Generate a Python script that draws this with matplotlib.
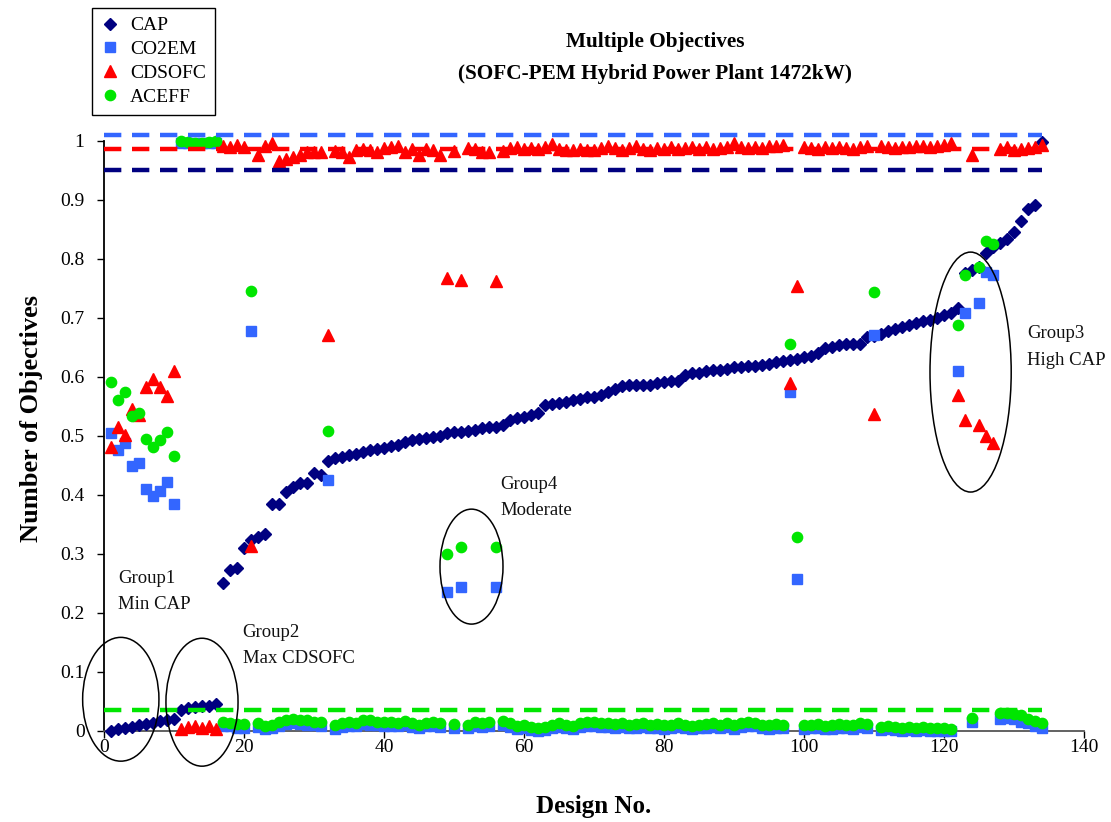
import matplotlib
matplotlib.use("Agg")
import matplotlib.pyplot as plt
from matplotlib.patches import Ellipse

# ---------------- data ----------------
design = list(range(1, 135))

cap = [
    0.000, 0.002, 0.004, 0.006, 0.009, 0.011, 0.013, 0.016, 0.017, 0.019,
    0.035, 0.038, 0.040, 0.041, 0.042, 0.045, 0.250, 0.272, 0.275, 0.309,
    0.323, 0.329, 0.333, 0.385, 0.385, 0.405, 0.413, 0.419, 0.420, 0.437,
    0.434, 0.458, 0.462, 0.464, 0.467, 0.469, 0.472, 0.475, 0.478, 0.480,
    0.483, 0.485, 0.490, 0.492, 0.494, 0.496, 0.498, 0.500, 0.504, 0.506,
    0.507, 0.508, 0.510, 0.513, 0.514, 0.515, 0.518, 0.527, 0.530, 0.532,
    0.535, 0.538, 0.552, 0.554, 0.555, 0.558, 0.561, 0.562, 0.565, 0.566,
    0.569, 0.575, 0.579, 0.584, 0.586, 0.586, 0.586, 0.586, 0.589, 0.592,
    0.593, 0.593, 0.603, 0.606, 0.607, 0.609, 0.611, 0.612, 0.614, 0.616,
    0.617, 0.618, 0.619, 0.620, 0.622, 0.625, 0.627, 0.629, 0.631, 0.633,
    0.636, 0.640, 0.648, 0.651, 0.654, 0.655, 0.655, 0.655, 0.667, 0.669,
    0.673, 0.677, 0.681, 0.685, 0.688, 0.691, 0.694, 0.697, 0.700, 0.704,
    0.709, 0.717, 0.776, 0.781, 0.786, 0.810, 0.820, 0.827, 0.833, 0.845,
    0.865, 0.884, 0.892, 0.998]

co2em = [
    0.505, 0.476, 0.488, 0.449, 0.454, 0.409, 0.398, 0.407, 0.422, 0.384,
    0.997, 0.997, 0.996, 0.996, 0.997, 0.997, 0.008, 0.007, 0.005, 0.005,
    0.678, 0.006, 0.002, 0.004, 0.008, 0.011, 0.012, 0.011, 0.010, 0.009,
    0.008, 0.425, 0.003, 0.006, 0.008, 0.007, 0.011, 0.010, 0.009, 0.008,
    0.007, 0.007, 0.009, 0.006, 0.004, 0.007, 0.008, 0.006, 0.235, 0.005,
    0.243, 0.004, 0.007, 0.006, 0.008, 0.243, 0.009, 0.006, 0.003, 0.004,
    0.001, 0.000, 0.001, 0.004, 0.006, 0.004, 0.003, 0.006, 0.008, 0.007,
    0.006, 0.006, 0.005, 0.006, 0.004, 0.005, 0.006, 0.004, 0.005, 0.003,
    0.004, 0.006, 0.004, 0.002, 0.004, 0.005, 0.006, 0.004, 0.006, 0.003,
    0.006, 0.008, 0.007, 0.004, 0.003, 0.005, 0.004, 0.575, 0.257, 0.003,
    0.004, 0.005, 0.002, 0.003, 0.005, 0.004, 0.003, 0.006, 0.005, 0.671,
    0.001, 0.002, 0.001, 0.000, 0.001, 0.000, 0.001, 0.000, 0.000, 0.000,
    0.000, 0.609, 0.709, 0.014, 0.725, 0.778, 0.773, 0.020, 0.022, 0.020,
    0.015, 0.012, 0.008, 0.004]

cdsofc = [
    0.481, 0.515, 0.501, 0.545, 0.535, 0.582, 0.596, 0.582, 0.567, 0.609,
    0.002, 0.006, 0.008, 0.004, 0.007, 0.002, 0.991, 0.990, 0.993, 0.990,
    0.313, 0.977, 0.992, 0.996, 0.966, 0.969, 0.972, 0.977, 0.982, 0.981,
    0.982, 0.671, 0.983, 0.981, 0.972, 0.985, 0.987, 0.985, 0.982, 0.988,
    0.989, 0.992, 0.982, 0.987, 0.977, 0.987, 0.985, 0.977, 0.768, 0.983,
    0.765, 0.988, 0.987, 0.981, 0.982, 0.762, 0.983, 0.988, 0.989, 0.987,
    0.988, 0.987, 0.989, 0.995, 0.987, 0.985, 0.985, 0.987, 0.985, 0.985,
    0.988, 0.991, 0.988, 0.985, 0.988, 0.991, 0.987, 0.985, 0.988, 0.987,
    0.989, 0.987, 0.988, 0.989, 0.987, 0.989, 0.987, 0.988, 0.989, 0.996,
    0.989, 0.988, 0.989, 0.988, 0.991, 0.992, 0.993, 0.589, 0.754, 0.989,
    0.988, 0.987, 0.989, 0.988, 0.990, 0.988, 0.987, 0.989, 0.991, 0.537,
    0.991, 0.989, 0.988, 0.990, 0.989, 0.991, 0.992, 0.990, 0.991, 0.993,
    0.996, 0.569, 0.527, 0.977, 0.518, 0.500, 0.487, 0.987, 0.989, 0.985,
    0.987, 0.988, 0.989, 0.993]

aceff = [
    0.591, 0.561, 0.575, 0.534, 0.538, 0.494, 0.481, 0.492, 0.507, 0.466,
    1.000, 0.999, 0.997, 0.997, 0.999, 1.000, 0.015, 0.013, 0.011, 0.011,
    0.746, 0.012, 0.007, 0.010, 0.015, 0.018, 0.019, 0.018, 0.017, 0.015,
    0.015, 0.508, 0.009, 0.012, 0.015, 0.013, 0.018, 0.017, 0.015, 0.014,
    0.014, 0.013, 0.016, 0.012, 0.010, 0.013, 0.015, 0.012, 0.299, 0.011,
    0.312, 0.010, 0.014, 0.012, 0.015, 0.312, 0.016, 0.012, 0.008, 0.010,
    0.006, 0.004, 0.006, 0.010, 0.013, 0.010, 0.008, 0.012, 0.015, 0.014,
    0.012, 0.013, 0.011, 0.012, 0.010, 0.011, 0.012, 0.010, 0.011, 0.009,
    0.010, 0.012, 0.010, 0.008, 0.010, 0.011, 0.013, 0.010, 0.012, 0.009,
    0.012, 0.015, 0.013, 0.010, 0.009, 0.011, 0.010, 0.656, 0.328, 0.009,
    0.010, 0.011, 0.008, 0.009, 0.011, 0.010, 0.009, 0.012, 0.011, 0.743,
    0.006, 0.007, 0.006, 0.005, 0.006, 0.005, 0.006, 0.005, 0.004, 0.005,
    0.003, 0.688, 0.773, 0.022, 0.787, 0.831, 0.826, 0.030, 0.030, 0.028,
    0.026, 0.020, 0.016, 0.012]

series_names = ["CAP", "CO2EM", "CDSOFC", "ACEFF"]
ref_levels = [0.951, 1.010, 0.986, 0.035]   # dashed reference lines (CAP, CO2EM, CDSOFC, ACEFF)
ref_span = [0, 134]

x_ticks = [0, 20, 40, 60, 80, 100, 120, 140]
y_ticks = [0, 0.1, 0.2, 0.3, 0.4, 0.5, 0.6, 0.7, 0.8, 0.9, 1.0]
y_tick_labels = ["0", "0.1", "0.2", "0.3", "0.4", "0.5", "0.6", "0.7", "0.8", "0.9", "1"]

group_labels = ["Group1\nMin CAP", "Group2\nMax CDSOFC", "Group4\nModerate", "Group3\nHigh CAP"]
group_label_pos = [(2.0, 0.272), (19.8, 0.180), (56.6, 0.432), (131.9, 0.687)]
group_ellipses = [(2.4, 0.053, 10.9, 0.21), (14.0, 0.048, 10.3, 0.217),
                  (52.5, 0.278, 9.0, 0.195), (123.8, 0.608, 11.6, 0.407)]

assert len(cap) == len(co2em) == len(cdsofc) == len(aceff) == len(design) == 134

# ---------------- style ----------------
SERIF = ["Liberation Serif", "DejaVu Serif"]
plt.rcParams["font.family"] = SERIF
NAVY = "#000080"
BLUE = "#3366FF"
RED = "#FF0000"
GREEN = "#00E600"

fig = plt.figure(figsize=(11.11, 8.22), dpi=100)
ax = fig.add_axes([0.0936, 0.1113, 0.8821, 0.7172])

h_cap, = ax.plot(design, cap, linestyle="none", marker="D", ms=6.2, color=NAVY,
                 mec=NAVY, clip_on=False, zorder=3, label="CAP")
h_co2, = ax.plot(design, co2em, linestyle="none", marker="s", ms=6.8, color=BLUE,
                 mec=BLUE, clip_on=False, zorder=3, label="CO2EM")
h_cds, = ax.plot(design, cdsofc, linestyle="none", marker="^", ms=8.0, color=RED,
                 mec=RED, clip_on=False, zorder=3, label="CDSOFC")
h_ace, = ax.plot(design, aceff, linestyle="none", marker="o", ms=7.4, color=GREEN,
                 mec=GREEN, clip_on=False, zorder=3, label="ACEFF")

for lvl, col in zip(ref_levels, [NAVY, BLUE, RED, GREEN]):
    ax.plot(ref_span, [lvl, lvl], color=col, lw=3.2, linestyle=(0, (3.9, 2.4)),
            clip_on=False, zorder=4, solid_capstyle="butt", dash_capstyle="butt")

for (cx, cy, w, h) in group_ellipses:
    e = Ellipse((cx, cy), w, h, fill=False, edgecolor="black", lw=1.1,
                clip_on=False, zorder=5)
    ax.add_patch(e)

for txt, (tx, ty) in zip(group_labels, group_label_pos):
    ax.text(tx, ty, txt, fontsize=13.5, va="top", ha="left", linespacing=1.7,
            color="#111111")

ax.set_xlim(0, 140)
ax.set_ylim(0, 1)
ax.set_xticks(x_ticks)
ax.set_yticks(y_ticks)
ax.set_yticklabels(y_tick_labels)
ax.tick_params(axis="both", direction="out", length=5, width=1, labelsize=14,
               colors="black")
ax.tick_params(axis="y", pad=9)
ax.tick_params(axis="x", pad=1)
for side in ["top", "right"]:
    ax.spines[side].set_visible(False)
ax.spines["left"].set_color("black")
ax.spines["bottom"].set_color("#555555")
ax.spines["left"].set_linewidth(1.3)
ax.spines["bottom"].set_linewidth(1.3)

ax.set_xlabel("Design No.", fontsize=18, fontweight="bold", labelpad=28)
ax.set_ylabel("Number of Objectives", fontsize=19, fontweight="bold")
ax.yaxis.set_label_coords(-0.062, 0.53)

fig.text(0.5896, 0.949, "Multiple Objectives", ha="center", va="center",
         fontsize=15.3, fontweight="bold")
fig.text(0.5896, 0.910, "(SOFC-PEM Hybrid Power Plant 1472kW)", ha="center",
         va="center", fontsize=15.3, fontweight="bold")

leg = fig.legend(handles=[h_cap, h_co2, h_cds, h_ace], labels=series_names,
                 loc="upper left", bbox_to_anchor=(92 / 1111, 1 - 8 / 822),
                 borderaxespad=0, fancybox=False, framealpha=1, edgecolor="black",
                 fontsize=14, handlelength=0.9, handletextpad=0.6,
                 labelspacing=0.32, borderpad=0.45, markerscale=1.0)
leg.get_frame().set_linewidth(1.0)

fig.savefig("out.png", dpi=100, facecolor="white")
